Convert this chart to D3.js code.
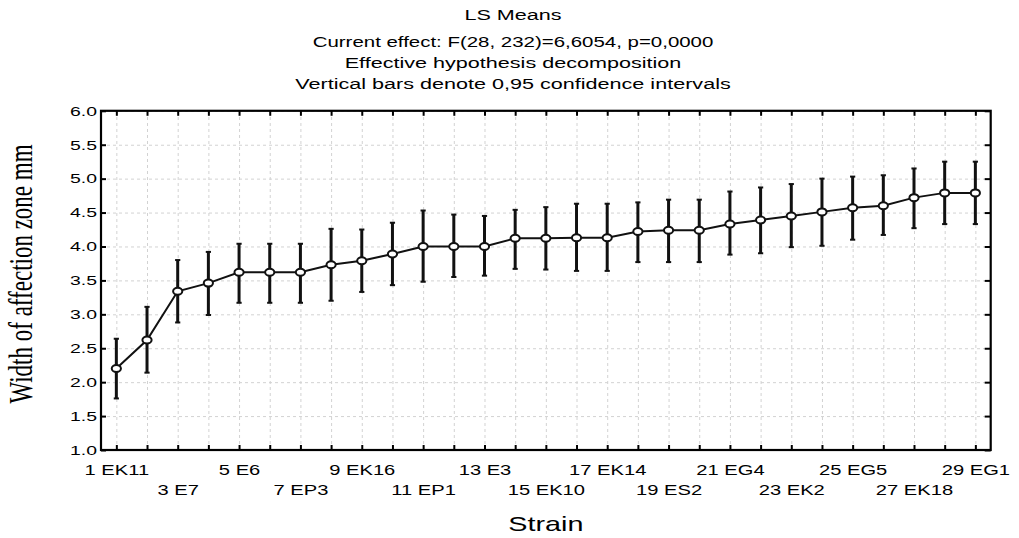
<!DOCTYPE html>
<html>
<head>
<meta charset="utf-8">
<script src="https://cdn.jsdelivr.net/npm/d3@7"></script>
<style>
  body { margin: 0; background: #fff; }
  svg { display: block; }
  .grid line { stroke: #d2d2d2; stroke-dasharray: 3 3; stroke-width: 1; }
  .grid path { display: none; }
  .frame-axis path { display: none; }
  .frame-axis line { stroke: #000; stroke-width: 2; }
</style>
</head>
<body>
<div id="chart"></div>
<script>
// data
const strainNo = [1, 2, 3, 4, 5, 6, 7, 8, 9, 10, 11, 12, 13, 14, 15, 16, 17, 18, 19, 20, 21, 22, 23, 24, 25, 26, 27, 28, 29];
const tickLabels = ['1 EK11', '', '3 E7', '', '5 E6', '', '7 EP3', '', '9 EK16', '', '11 EP1', '', '13 E3', '', '15 EK10',
    '', '17 EK14', '', '19 ES2', '', '21 EG4', '', '23 EK2', '', '25 EG5', '', '27 EK18', '', '29 EG1'];
const lsMeans = [2.20, 2.62, 3.34, 3.46, 3.62, 3.62, 3.62, 3.73, 3.79, 3.89, 4.00, 4.00, 4.00, 4.12, 4.12,
    4.13, 4.13, 4.22, 4.24, 4.24, 4.33, 4.39, 4.45, 4.51, 4.57, 4.60, 4.72, 4.79, 4.79];
const ciLower = [1.76, 2.14, 2.88, 2.99, 3.17, 3.17, 3.17, 3.20, 3.33, 3.43, 3.48, 3.55, 3.57, 3.67, 3.66,
    3.64, 3.64, 3.77, 3.77, 3.77, 3.88, 3.90, 3.99, 4.01, 4.10, 4.17, 4.27, 4.33, 4.33];
const ciUpper = [2.64, 3.11, 3.80, 3.92, 4.04, 4.04, 4.04, 4.26, 4.25, 4.35, 4.53, 4.47, 4.45, 4.54, 4.58,
    4.63, 4.63, 4.65, 4.69, 4.69, 4.81, 4.87, 4.92, 5.00, 5.03, 5.05, 5.15, 5.25, 5.25];
const yTicks = [1.0, 1.5, 2.0, 2.5, 3.0, 3.5, 4.0, 4.5, 5.0, 5.5, 6.0];
const titleLines = ['LS Means', 'Current effect: F(28, 232)=6,6054, p=0,0000',
    'Effective hypothesis decomposition', 'Vertical bars denote 0,95 confidence intervals'];

const width = 1019;
const height = 538;
const plot = {left: 101, right: 990.7, top: 110.8, bottom: 450};
const sx = 1.44; // text in the original is stretched sideways
const sans = '"Liberation Sans", Arial, sans-serif';

const svg = d3.select('#chart').append('svg')
    .attr('width', width)
    .attr('height', height);

const x = d3.scaleLinear().domain([0.5, 29.5]).range([plot.left, plot.right]);
const y = d3.scaleLinear().domain([1, 6]).range([plot.bottom, plot.top]);

/**
 * GRID
 * */
svg.append('g')
    .attr('class', 'grid')
    .attr('transform', `translate(0, ${plot.bottom})`)
    .call(d3.axisBottom(x).tickValues(strainNo).tickSize(-(plot.bottom - plot.top)).tickFormat(''));
svg.append('g')
    .attr('class', 'grid')
    .attr('transform', `translate(${plot.left}, 0)`)
    .call(d3.axisLeft(y).tickValues(yTicks).tickSize(-(plot.right - plot.left)).tickFormat(''));

/**
 * FRAME + INWARD TICKS
 * */
const addFrameAxis = (axis, tx, ty) => svg.append('g')
    .attr('class', 'frame-axis')
    .attr('transform', `translate(${tx}, ${ty})`)
    .call(axis);

addFrameAxis(d3.axisTop(x).tickValues(strainNo).tickSize(-5).tickFormat(''), 0, plot.top);
addFrameAxis(d3.axisRight(y).tickValues(yTicks).tickSize(-6).tickFormat(''), plot.right, 0);

const bottomAxis = addFrameAxis(d3.axisBottom(x).tickValues(strainNo).tickSize(-5)
    .tickFormat((d, i) => tickLabels[i]), 0, plot.bottom);
bottomAxis.selectAll('text')
    .attr('font-family', sans)
    .attr('font-size', 14)
    .attr('fill', '#000')
    .attr('dy', null)
    .attr('y', (d, i) => (i % 4 === 0 ? 25 : 45))
    .attr('transform', `scale(${sx}, 1)`);

const leftAxis = addFrameAxis(d3.axisLeft(y).tickValues(yTicks).tickSize(-5)
    .tickFormat(d3.format('.1f')), plot.left, 0);
leftAxis.selectAll('text')
    .attr('font-family', sans)
    .attr('font-size', 13.5)
    .attr('fill', '#000')
    .attr('x', -2.8)
    .attr('dy', '0.32em')
    .attr('transform', `scale(${sx}, 1)`);

svg.append('rect')
    .attr('x', plot.left)
    .attr('y', plot.top)
    .attr('width', plot.right - plot.left)
    .attr('height', plot.bottom - plot.top)
    .attr('fill', 'none')
    .attr('stroke', '#000')
    .attr('stroke-width', 2.2);

/**
 * ERROR BARS
 * */
const bars = svg.append('g').attr('class', 'error-bars');
bars.selectAll('line.bar')
    .data(strainNo)
    .join('line')
    .attr('class', 'bar')
    .attr('x1', d => x(d))
    .attr('x2', d => x(d))
    .attr('y1', (d, i) => y(ciLower[i]))
    .attr('y2', (d, i) => y(ciUpper[i]))
    .attr('stroke', '#111')
    .attr('stroke-width', 3);
[ciLower, ciUpper].forEach((vals) => {
    bars.append('g').selectAll('line')
        .data(strainNo)
        .join('line')
        .attr('x1', d => x(d) - 2.6)
        .attr('x2', d => x(d) + 2.6)
        .attr('y1', (d, i) => y(vals[i]))
        .attr('y2', (d, i) => y(vals[i]))
        .attr('stroke', '#111')
        .attr('stroke-width', 2);
});

/**
 * MEANS LINE + MARKERS
 * */
const line = d3.line()
    .x(d => x(d))
    .y((d, i) => y(lsMeans[i]));

svg.append('path')
    .datum(strainNo)
    .attr('d', line)
    .attr('fill', 'none')
    .attr('stroke', '#111')
    .attr('stroke-width', 2);

svg.append('g').selectAll('ellipse')
    .data(strainNo)
    .join('ellipse')
    .attr('cx', d => x(d))
    .attr('cy', (d, i) => y(lsMeans[i]))
    .attr('rx', 4.6)
    .attr('ry', 3.5)
    .attr('fill', '#fff')
    .attr('stroke', '#111')
    .attr('stroke-width', 2);

/**
 * TEXTS
 * */
const addStretchedText = (tx, ty, txt, size, family = sans) => svg.append('g')
    .attr('transform', `translate(${tx}, ${ty}) scale(${sx}, 1)`)
    .append('text')
    .attr('text-anchor', 'middle')
    .attr('font-family', family)
    .attr('font-size', size)
    .attr('fill', '#000')
    .text(txt);

const titleBaselines = [19.5, 46.5, 67.5, 88.5];
const titleSizes = [15, 14.2, 15, 15];
titleLines.forEach((t, i) => addStretchedText(513, titleBaselines[i], t, titleSizes[i]));

addStretchedText((plot.left + plot.right) / 2, 531, 'Strain', 20);

svg.append('g')
    .attr('transform', `translate(32, 274) scale(${sx}, 1) rotate(-90)`)
    .append('text')
    .attr('text-anchor', 'middle')
    .attr('font-family', '"Liberation Serif", "Times New Roman", serif')
    .attr('font-size', 23)
    .attr('fill', '#000')
    .text('Width of affection zone mm');
</script>
</body>
</html>
